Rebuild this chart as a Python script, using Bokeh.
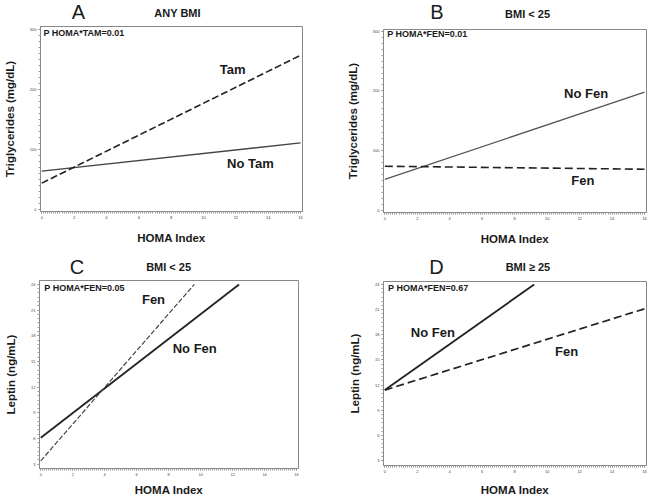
from bokeh.plotting import figure
from bokeh.layouts import column, row
from bokeh.models import Label, FixedTicker, Range1d
from bokeh.embed import file_html
from bokeh.resources import INLINE

# ---- data ----
homa_ticks = [0, 2, 4, 6, 8, 10, 12, 14, 16]
tg_ticks = [0, 100, 200, 300]
lep_ticks = [3, 6, 9, 12, 15, 18, 21, 24]

# Panel A: any BMI, triglycerides
a_tam_x = [0, 16]
a_tam_y = [44, 257]
a_notam_x = [0, 16]
a_notam_y = [64, 111]

# Panel B: BMI < 25, triglycerides
b_nofen_x = [0, 16]
b_nofen_y = [52, 198]
b_fen_x = [0, 16]
b_fen_y = [74, 69]

# Panel C: BMI < 25, leptin
c_nofen_x = [0, 12.4]
c_nofen_y = [6.1, 24]
c_fen_x = [0, 9.6]
c_fen_y = [3.4, 24]

# Panel D: BMI >= 25, leptin
d_nofen_x = [0, 9.2]
d_nofen_y = [11.4, 24]
d_fen_x = [0, 16]
d_fen_y = [11.4, 21.1]

FONT = "Liberation Sans"
TXT = "#1a1a1a"


def make_fig(w, h, bl, br, bt, bb, yr, yticks, ylabel, yminor, xstand):
    p = figure(width=w, height=h, output_backend="svg", toolbar_location=None,
               x_range=Range1d(-0.08, 16.12), y_range=Range1d(*yr),
               min_border_left=bl, min_border_right=br,
               min_border_top=bt, min_border_bottom=bb)
    p.grid.visible = False
    p.outline_line_color = "#888888"
    p.outline_line_width = 1
    p.background_fill_color = "white"
    p.border_fill_color = "white"
    p.xaxis.ticker = FixedTicker(ticks=homa_ticks,
                                 minor_ticks=[i * 0.125 for i in range(0, 129)])
    p.yaxis.ticker = FixedTicker(ticks=yticks, minor_ticks=yminor)
    for ax in (p.xaxis[0], p.yaxis[0]):
        ax.axis_line_color = "#888888"
        ax.major_tick_line_color = "#888888"
        ax.minor_tick_line_color = "#999999"
        ax.major_tick_in = 0
        ax.major_tick_out = 2
        ax.minor_tick_in = 0
        ax.minor_tick_out = 2
        ax.major_label_text_font_size = "4px"
        ax.major_label_text_color = "#444444"
        ax.major_label_text_font = FONT
        ax.major_label_standoff = 2
        ax.axis_label_text_font = FONT
        ax.axis_label_text_font_style = "bold"
        ax.axis_label_text_font_size = "11.5px"
        ax.axis_label_text_color = TXT
    p.xaxis.axis_label = "HOMA Index"
    p.yaxis.axis_label = ylabel
    p.yaxis.axis_label_standoff = 11
    p.xaxis.axis_label_standoff = xstand
    return p


def make_header(w, h):
    p = figure(width=w, height=h, output_backend="svg", toolbar_location=None,
               x_range=Range1d(0, w), y_range=Range1d(0, h),
               x_axis_type=None, y_axis_type=None, title=None,
               min_border=0, min_border_left=0, min_border_right=0,
               min_border_top=0, min_border_bottom=0)
    p.grid.visible = False
    p.outline_line_color = None
    p.background_fill_color = "white"
    p.border_fill_color = "white"
    return p


def add_text(p, x, y, t, size, style="bold", align="center"):
    p.add_layout(Label(x=x, y=y, text=t, text_font=FONT, text_font_size=size,
                       text_font_style=style, text_color=TXT,
                       text_align=align, text_baseline="middle"))


tg_minor = list(range(0, 301, 10))
lep_minor = [3 + i * 0.5 for i in range(0, 43)]

# ---- headers ----
ha = make_header(325, 24)
add_text(ha, 47, 13, "A", "20px", style="normal")
add_text(ha, 170, 11.5, "ANY BMI", "11px")
hb = make_header(325, 24)
add_text(hb, 66, 12.5, "B", "20px", style="normal")
add_text(hb, 178, 11, "BMI < 25", "11px")
hc = make_header(325, 29)
add_text(hc, 47, 10, "C", "20px", style="normal")
add_text(hc, 162, 10, "BMI < 25", "11px")
hd = make_header(325, 29)
add_text(hd, 65.5, 10, "D", "20px", style="normal")
add_text(hd, 178.5, 10, "BMI \u2265 25", "11px")

# ---- Panel A ----
pa = make_fig(325, 223, 38, 23, 2, 36, (-3.3, 305), tg_ticks,
              "Triglycerides (mg/dL)", tg_minor, 10)
pa.line(a_notam_x, a_notam_y, line_color="#444444", line_width=1.3)
pa.line(a_tam_x, a_tam_y, line_color="#222222", line_width=1.6, line_dash="7 3")
add_text(pa, 0.1, 293.8, "P HOMA*TAM=0.01", "9px", align="left")
add_text(pa, 11.8, 234, "Tam", "13px")
add_text(pa, 12.9, 76, "No Tam", "13px")

# ---- Panel B ----
pb = make_fig(325, 223, 58, 4, 5, 35, (-3.4, 302.8), tg_ticks,
              "Triglycerides (mg/dL)", tg_minor, 10)
pb.line(b_nofen_x, b_nofen_y, line_color="#555555", line_width=1.3)
pb.line(b_fen_x, b_fen_y, line_color="#222222", line_width=1.6, line_dash="8 4")
add_text(pb, 0.15, 296, "P HOMA*FEN=0.01", "9px", align="left")
add_text(pb, 12.4, 196, "No Fen", "13px")
add_text(pb, 12.2, 50, "Fen", "13px")

# ---- Panel C ----
pc = make_fig(325, 222, 39, 27, 4, 27, (2.5, 24.46), lep_ticks,
              "Leptin (ng/mL)", lep_minor, 5)
pc.line(c_nofen_x, c_nofen_y, line_color="#222222", line_width=1.8)
pc.line(c_fen_x, c_fen_y, line_color="#444444", line_width=1.2, line_dash="5 2")
add_text(pc, 0.22, 23.6, "P HOMA*FEN=0.05", "9px", align="left")
add_text(pc, 7.05, 22.2, "Fen", "13px")
add_text(pc, 9.63, 16.5, "No Fen", "13px")

# ---- Panel D ----
pd_ = make_fig(325, 222, 58, 4, 5, 31, (2.41, 24.35), lep_ticks,
               "Leptin (ng/mL)", lep_minor, 8)
pd_.line(d_nofen_x, d_nofen_y, line_color="#222222", line_width=1.8)
pd_.line(d_fen_x, d_fen_y, line_color="#222222", line_width=1.7, line_dash="8 4")
add_text(pd_, 0.2, 23.6, "P HOMA*FEN=0.67", "9px", align="left")
add_text(pd_, 2.96, 18.3, "No Fen", "13px")
add_text(pd_, 11.2, 16.0, "Fen", "13px")

layout = column(row(column(ha, pa), column(hb, pb)),
                row(column(hc, pc), column(hd, pd_)))
open("out.html", "w").write(file_html(layout, INLINE))
